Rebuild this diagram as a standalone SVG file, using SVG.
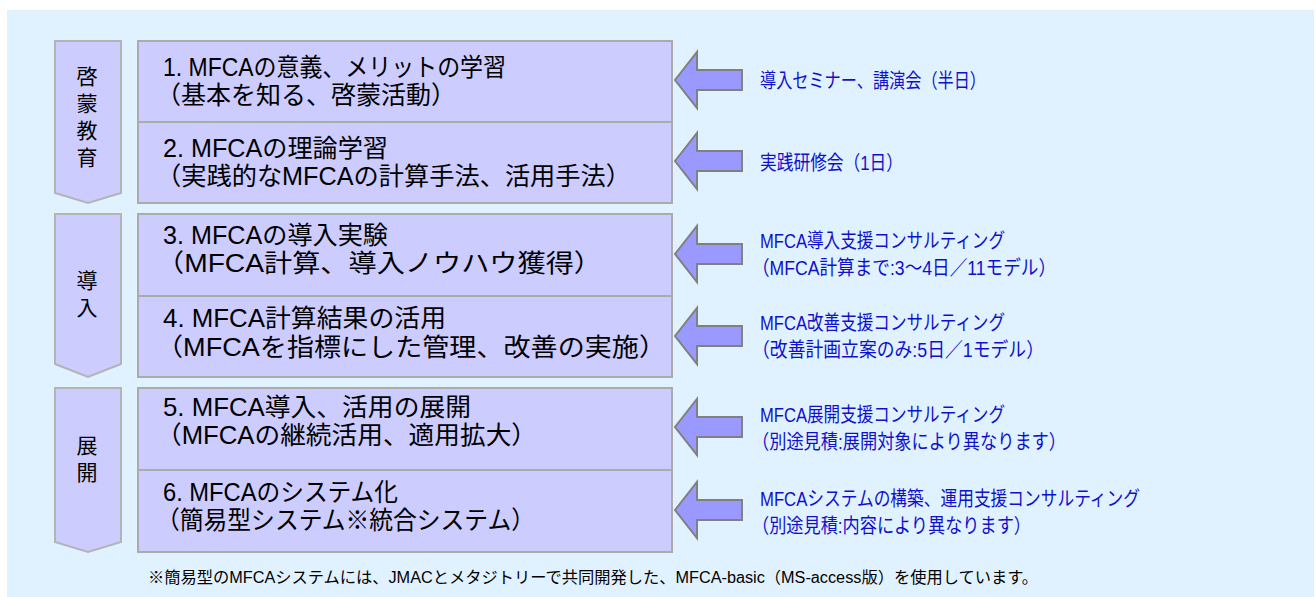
<svg xmlns="http://www.w3.org/2000/svg" width="1316" height="597" viewBox="0 0 1316 597">
<style>
.bg{fill:#E0F2FF}
.box{fill:#CCCCFF;stroke:#ABABAB;stroke-width:2}
.chev{fill:#CCCCFF;stroke:#B4B4B4;stroke-width:2}
.arr{fill:#9999FF;stroke:#808080;stroke-width:2}
.t{font-family:"Liberation Sans","Noto Sans CJK JP",sans-serif;font-size:25px;fill:#000}
.v{font-family:"Noto Sans CJK JP",sans-serif;font-size:21px;fill:#000;text-anchor:middle;writing-mode:vertical-rl;letter-spacing:6px}
.r{font-family:"Liberation Sans","Noto Sans CJK JP",sans-serif;font-size:20px;fill:#1010CC}
.f{font-family:"Liberation Sans","Noto Sans CJK JP",sans-serif;font-size:16px;fill:#000}
</style>
<defs>
<path id="arrow" d="M0 0 L22 -28 L22 -10 L67 -10 L67 10 L22 10 L22 28 Z"/>
</defs>
<rect class="bg" x="7" y="10" width="1307" height="587"/>

<g id="stage1">
<path class="chev" d="M55 41 H121 V193 L88 203 L55 193 Z"/>
<text class="v" x="87" y="120">啓蒙教育</text>
</g>
<g id="stage2">
<path class="chev" d="M55 214 H121 V364 L88 377 L55 364 Z"/>
<text class="v" x="87" y="297">導入</text>
</g>
<g id="stage3">
<path class="chev" d="M55 388 H121 V542 L88 552 L55 542 Z"/>
<text class="v" x="87" y="462">展開</text>
</g>

<g id="step1">
<rect class="box" x="138" y="41" width="534" height="81"/>
<text class="t" x="163" y="76" textLength="343" lengthAdjust="spacingAndGlyphs">1. MFCAの意義、メリットの学習</text>
<text class="t" x="156" y="104" textLength="300" lengthAdjust="spacingAndGlyphs">（基本を知る、啓蒙活動）</text>
</g>
<g id="step2">
<rect class="box" x="138" y="122" width="534" height="81"/>
<text class="t" x="163" y="157" textLength="225" lengthAdjust="spacingAndGlyphs">2. MFCAの理論学習</text>
<text class="t" x="156" y="185" textLength="475" lengthAdjust="spacingAndGlyphs">（実践的なMFCAの計算手法、活用手法）</text>
</g>
<g id="step3">
<rect class="box" x="138" y="214" width="534" height="82"/>
<text class="t" x="163" y="244" textLength="225" lengthAdjust="spacingAndGlyphs">3. MFCAの導入実験</text>
<text class="t" x="156" y="272" textLength="446" lengthAdjust="spacingAndGlyphs">（MFCA計算、導入ノウハウ獲得）</text>
</g>
<g id="step4">
<rect class="box" x="138" y="296" width="534" height="81"/>
<text class="t" x="163" y="327" textLength="283" lengthAdjust="spacingAndGlyphs">4. MFCA計算結果の活用</text>
<text class="t" x="156" y="356" textLength="510" lengthAdjust="spacingAndGlyphs">（MFCAを指標にした管理、改善の実施）</text>
</g>
<g id="step5">
<rect class="box" x="138" y="388" width="534" height="82"/>
<text class="t" x="163" y="416" textLength="308" lengthAdjust="spacingAndGlyphs">5. MFCA導入、活用の展開</text>
<text class="t" x="156" y="444" textLength="381" lengthAdjust="spacingAndGlyphs">（MFCAの継続活用、適用拡大）</text>
</g>
<g id="step6">
<rect class="box" x="138" y="470" width="534" height="82"/>
<text class="t" x="163" y="501" textLength="235" lengthAdjust="spacingAndGlyphs">6. MFCAのシステム化</text>
<text class="t" x="156" y="529" textLength="379" lengthAdjust="spacingAndGlyphs">（簡易型システム※統合システム）</text>
</g>

<g id="connectors">
<use href="#arrow" class="arr" x="675" y="80"/>
<use href="#arrow" class="arr" x="675" y="161"/>
<use href="#arrow" class="arr" x="675" y="254"/>
<use href="#arrow" class="arr" x="675" y="336"/>
<use href="#arrow" class="arr" x="675" y="427"/>
<use href="#arrow" class="arr" x="675" y="510"/>
</g>

<g id="service1"><text class="r" x="760" y="88" textLength="226" lengthAdjust="spacingAndGlyphs">導入セミナー、講演会（半日）</text></g>
<g id="service2"><text class="r" x="760" y="170" textLength="143" lengthAdjust="spacingAndGlyphs">実践研修会（1日）</text></g>
<g id="service3">
<text class="r" x="760" y="248" textLength="245" lengthAdjust="spacingAndGlyphs">MFCA導入支援コンサルティング</text>
<text class="r" x="752" y="275" textLength="304" lengthAdjust="spacingAndGlyphs">（MFCA計算まで:3～4日／11モデル）</text>
</g>
<g id="service4">
<text class="r" x="760" y="330" textLength="245" lengthAdjust="spacingAndGlyphs">MFCA改善支援コンサルティング</text>
<text class="r" x="752" y="357" textLength="292" lengthAdjust="spacingAndGlyphs">（改善計画立案のみ:5日／1モデル）</text>
</g>
<g id="service5">
<text class="r" x="760" y="422" textLength="245" lengthAdjust="spacingAndGlyphs">MFCA展開支援コンサルティング</text>
<text class="r" x="752" y="449" textLength="314" lengthAdjust="spacingAndGlyphs">（別途見積:展開対象により異なります）</text>
</g>
<g id="service6">
<text class="r" x="760" y="506" textLength="380" lengthAdjust="spacingAndGlyphs">MFCAシステムの構築、運用支援コンサルティング</text>
<text class="r" x="752" y="533" textLength="279" lengthAdjust="spacingAndGlyphs">（別途見積:内容により異なります）</text>
</g>

<text class="f" x="148" y="583" textLength="890" lengthAdjust="spacingAndGlyphs">※簡易型のMFCAシステムには、JMACとメタジトリーで共同開発した、MFCA-basic（MS-access版）を使用しています。</text>
</svg>
